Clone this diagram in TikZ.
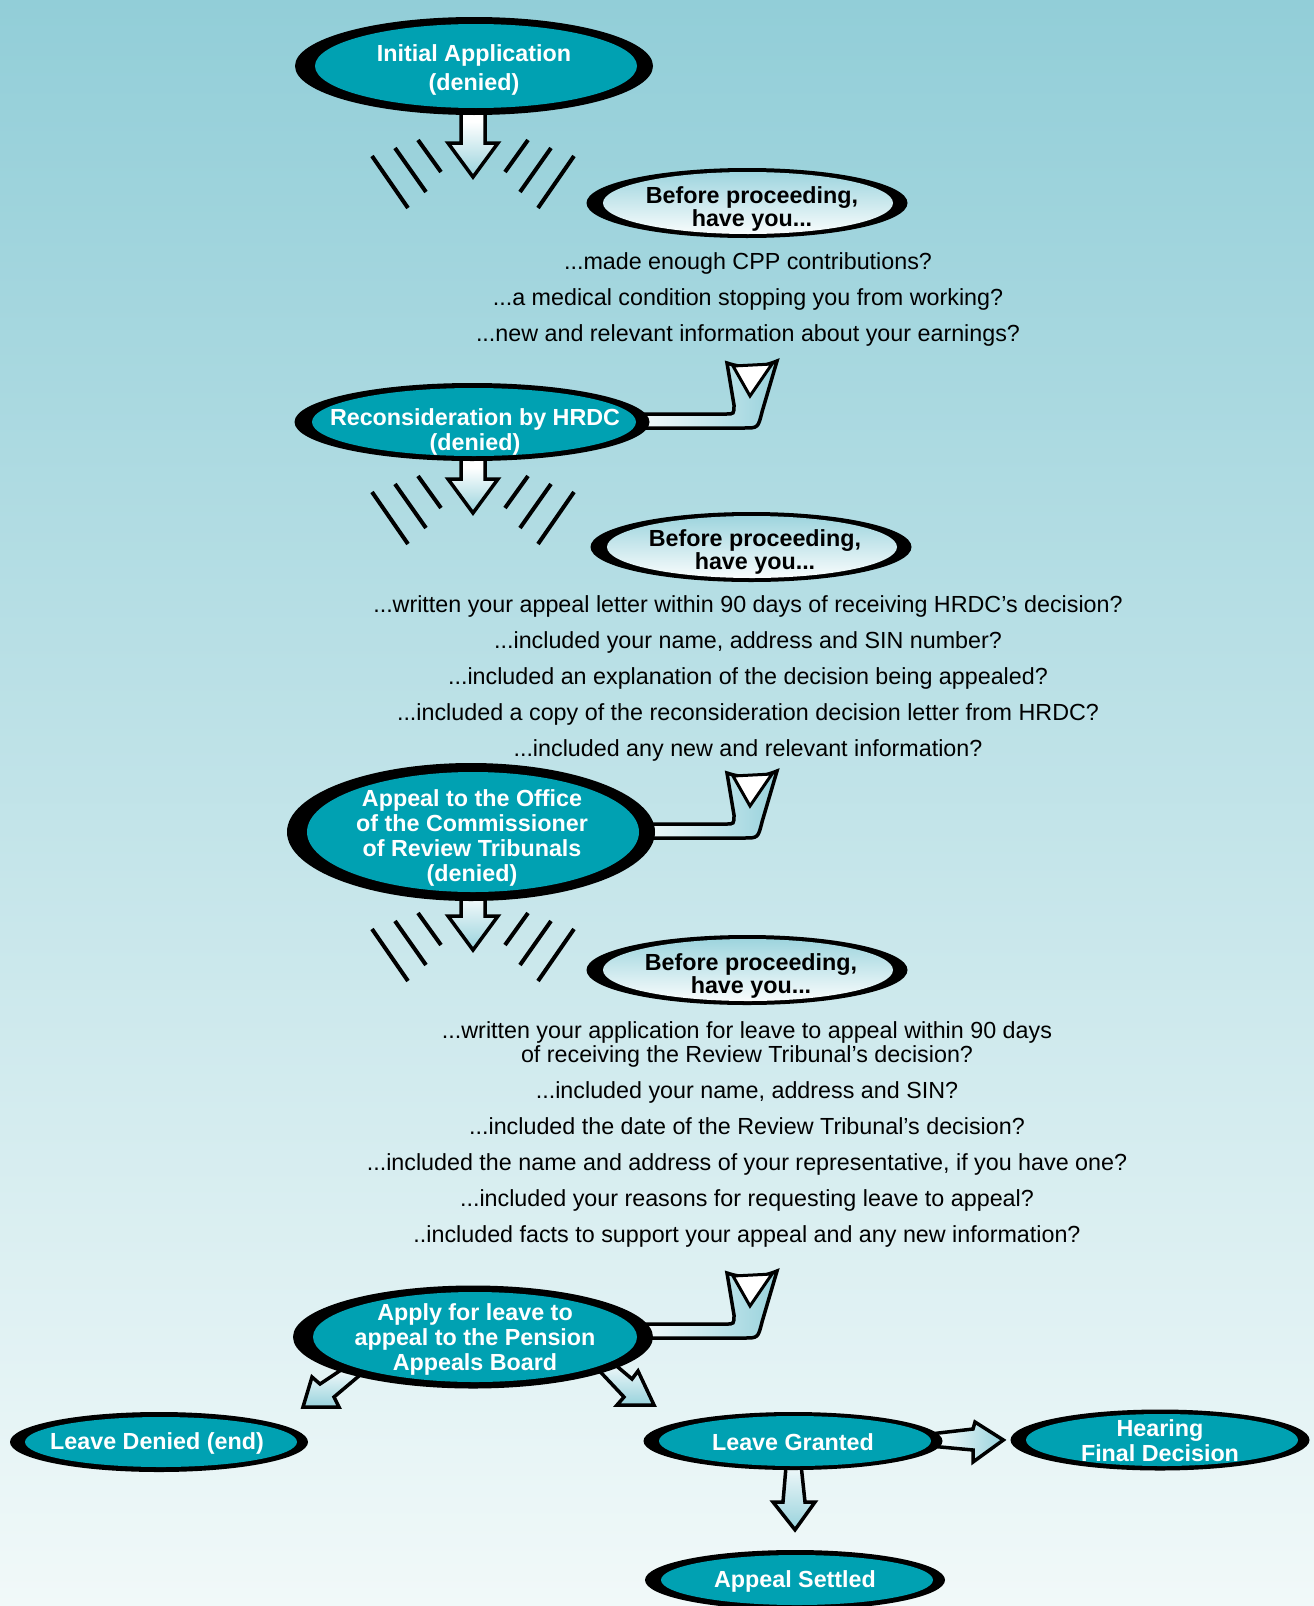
\documentclass[tikz,border=0pt]{standalone}
\usepackage{fontspec}
\setmainfont{Liberation Sans}
\usetikzlibrary{shapes.geometric}

\definecolor{bgtop}{RGB}{146,206,216}
\definecolor{bgbot}{RGB}{241,249,249}
\definecolor{tealc}{RGB}{0,161,178}
\definecolor{paleteal}{RGB}{152,210,220}

\pgfdeclarelayer{back}
\pgfdeclarelayer{arrows}
\pgfsetlayers{back,arrows,main}

\tikzset{
  bubble/.style 2 args={ellipse, fill=black, inner sep=0pt,
    path picture={\fill[tealc] ([xshift=2pt]path picture bounding box.center)
      ellipse [x radius=#1pt, y radius=#2pt];}},
  askbubble/.style={ellipse, fill=black, inner sep=0pt,
    minimum width=321pt, minimum height=70pt,
    path picture={\shade[top color=paleteal, bottom color=white]
      ([xshift=1pt]path picture bounding box.center) ellipse [x radius=145pt, y radius=31pt];}},
  bubbletext/.style={text=white, align=center, inner sep=0pt,
    font=\bfseries\fontsize{23.3}{25}\selectfont},
  asktext/.style={align=center, inner sep=0pt,
    font=\bfseries\fontsize{23.3}{23}\selectfont},
  listtext/.style={align=center, inner sep=0pt, font=\fontsize{23.3}{24}\selectfont},
  blockarrow/.style={draw=black, line width=3.5pt},
  fanline/.style={line width=4pt},
}

\begin{document}
\begin{tikzpicture}[x=1pt, y=-1pt]
  \useasboundingbox (0,0) rectangle (1314,1606);
  \begin{pgfonlayer}{back}
    \shade[top color=bgtop, bottom color=bgbot] (0,0) rectangle (1314,1606);
  \end{pgfonlayer}

  % main steps
  \node[bubble={161}{42}, minimum width=358pt, minimum height=98pt] (init) at (474,66) {};
  \node[bubbletext] (initT) at (474,70) {Initial Application\\[4pt](denied)};
  \node[bubble={162}{34}, minimum width=355pt, minimum height=78pt] (recon) at (472,422) {};
  \node[bubbletext] (reconT) at (475,432) {Reconsideration by HRDC\\(denied)};
  \node[bubble={166}{60}, minimum width=368pt, minimum height=138pt] (appeal) at (471,832) {};
  \node[bubbletext] (appealT) at (472,838) {Appeal to the Office\\of the Commissioner\\of Review Tribunals\\(denied)};
  \node[bubble={162}{45}, minimum width=360pt, minimum height=103pt] (apply) at (473,1337) {};
  \node[bubbletext] (applyT) at (475,1339) {Apply for leave to\\appeal to the Pension\\Appeals Board};

  % outcomes
  \node[bubble={136}{25}, minimum width=298pt, minimum height=60pt] (denied) at (159,1442) {};
  \node[bubbletext] (deniedT) at (157,1443) {Leave Denied (end)};
  \node[bubble={136}{25}, minimum width=299pt, minimum height=58pt] (granted) at (793,1441) {};
  \node[bubbletext] (grantedT) at (793,1442) {Leave Granted};
  \node[bubble={136}{26}, minimum width=299pt, minimum height=61pt] (hearing) at (1160,1440) {};
  \node[bubbletext] (hearingT) at (1160,1441) {Hearing\\Final Decision};
  \node[bubble={136}{25}, minimum width=300pt, minimum height=60pt] (settled) at (795,1580) {};
  \node[bubbletext] (settledT) at (795,1581) {Appeal Settled};

  % checklists
  \node[askbubble] (ask1) at (747,203) {};
  \node[asktext] (ask1T) at (752,209) {Before proceeding,\\have you...};
  \node[askbubble] (ask2) at (751,547) {};
  \node[asktext] (ask2T) at (755,552) {Before proceeding,\\have you...};
  \node[askbubble] (ask3) at (747,970) {};
  \node[asktext] (ask3T) at (751,976) {Before proceeding,\\have you...};

  \node[listtext] (check1) at (748,299) {...made enough CPP contributions?\\[12pt]
    ...a medical condition stopping you from working?\\[12pt]
    ...new and relevant information about your earnings?};
  \node[listtext] (check2) at (748,678) {...written your appeal letter within 90 days of receiving HRDC’s decision?\\[12pt]
    ...included your name, address and SIN number?\\[12pt]
    ...included an explanation of the decision being appealed?\\[12pt]
    ...included a copy of the reconsideration decision letter from HRDC?\\[12pt]
    ...included any new and relevant information?};
  \node[listtext] (check3) at (747,1134) {...written your application for leave to appeal within 90 days\\
    of receiving the Review Tribunal’s decision?\\[12pt]
    ...included your name, address and SIN?\\[12pt]
    ...included the date of the Review Tribunal’s decision?\\[12pt]
    ...included the name and address of your representative, if you have one?\\[12pt]
    ...included your reasons for requesting leave to appeal?\\[12pt]
    ..included facts to support your appeal and any new information?};

  % down arrows with fan strokes
  \coordinate (t1) at (473,177);
  \coordinate (t2) at (473,513);
  \coordinate (t3) at (473,950);
  \foreach \nd/\tp in {init/t1, recon/t2, appeal/t3} {
    \begin{scope}[shift={(\tp)}]
      \begin{pgfonlayer}{arrows}
        \draw[blockarrow, top color=white, bottom color=paleteal, middle color=white]
          (-12,0 |- \nd.center) -- (-12,-34) -- (-25,-34) -- (0,0)
          -- (25,-34) -- (12,-34) -- (12,0 |- \nd.center) -- cycle;
      \end{pgfonlayer}
      \foreach \s in {-1,1} {
        \draw[fanline] (\s*55,-37) -- (\s*32,-5);
        \draw[fanline] (\s*78,-29) -- (\s*47,15);
        \draw[fanline] (\s*101,-21) -- (\s*65,31);
      }
    \end{scope}
  }

  % bent arrows back from the checklists
  \coordinate (v1) at (750,397);
  \coordinate (v2) at (750,807);
  \coordinate (v3) at (750,1307);
  \foreach \nd/\vv in {recon/v1, appeal/v2, apply/v3} {
    \begin{scope}[shift={(\vv)}]
      \begin{pgfonlayer}{arrows}
        \draw[blockarrow, left color=white, right color=paleteal, middle color=white]
          (\nd.center |- 0,17) -- (-24,17) .. controls (-16,17) .. (-16,8)
          -- (-23,-34) .. controls (-5,-28) and (10,-29) .. (27,-36)
          -- (12,15) .. controls (8,31) .. (-6,31) -- (\nd.center |- 0,31) -- cycle;
      \end{pgfonlayer}
      \draw[blockarrow, fill=white, line width=3pt] (-17,-31) -- (22,-33) -- (0,-1) -- cycle;
    \end{scope}
  }

  % leave decision
  \begin{pgfonlayer}{arrows}
    \begin{scope}[shift={(apply.center)}]
      \draw[blockarrow, top color=white, bottom color=paleteal]
        (-123,27) -- (-153,47) -- (-161,40) -- (-170,70) -- (-134,70) -- (-139,60) -- (-107,33) -- cycle;
      \draw[blockarrow, top color=white, bottom color=paleteal]
        (133,20) -- (159,42) -- (165,34) -- (181,68) -- (144,68) -- (151,60) -- (119,26) -- cycle;
    \end{scope}
    \begin{scope}[shift={(granted.center)}]
      \draw[blockarrow, left color=white, right color=paleteal]
        (137,-7) -- (180,-12) -- (182,-19) -- ([xshift=-7pt]hearing.west)
        -- (180,21) -- (180,9) -- (137,5) -- cycle;
      \draw[blockarrow, top color=white, bottom color=paleteal]
        (-6,14) -- (-10,61) -- (-20,61) -- ([yshift=20pt]settled.north)
        -- (22,61) -- (12,61) -- (7,14) -- cycle;
    \end{scope}
  \end{pgfonlayer}
\end{tikzpicture}
\end{document}
